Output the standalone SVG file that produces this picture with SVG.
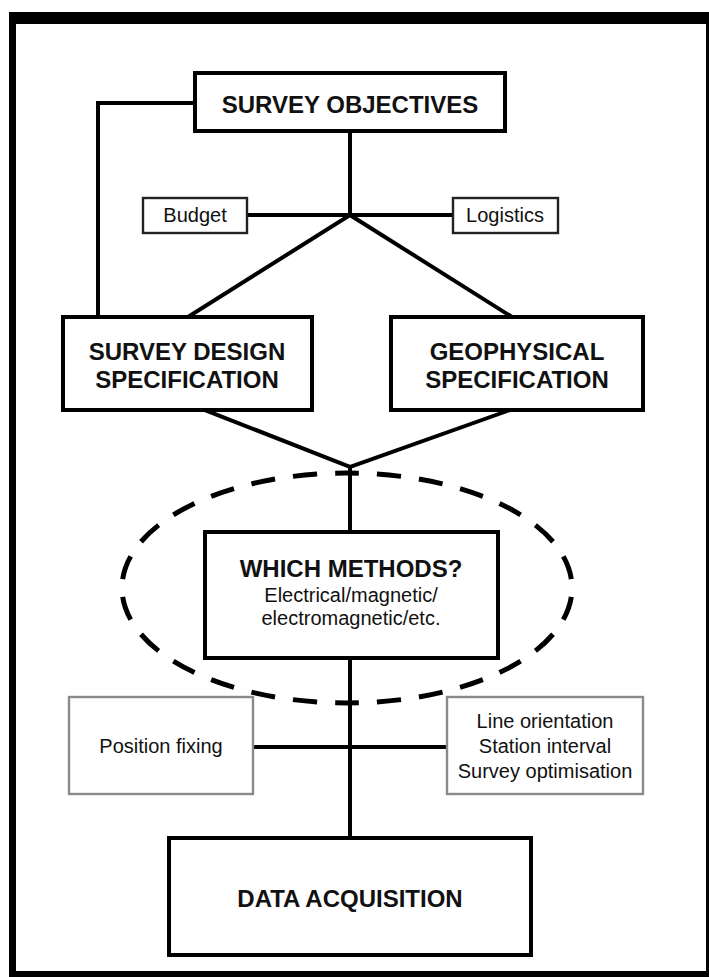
<svg xmlns="http://www.w3.org/2000/svg" width="709" height="977" viewBox="0 0 709 977">
<style>
.main{fill:#fff;stroke:#000;stroke-width:4}
.small{fill:#fff;stroke:#222;stroke-width:2.4}
.grey{fill:#fff;stroke:#8a8a8a;stroke-width:2.4}
.conn{stroke:#000;stroke-width:4;fill:none;stroke-linecap:square}
.bold{font-family:"Liberation Sans",Arial,sans-serif;font-weight:bold;font-size:24px;fill:#111;text-anchor:middle}
.reg{font-family:"Liberation Sans",Arial,sans-serif;font-size:20px;fill:#111;text-anchor:middle}
</style>
<rect width="709" height="977" fill="#fff"/>
<g id="frame" fill="#000">
<rect x="9" y="12" width="700" height="12"/>
<rect x="9" y="12" width="7" height="965"/>
<rect x="9" y="971" width="700" height="6"/>
<rect x="706" y="12" width="3" height="965"/>
</g>
<g id="connectors">
<polyline class="conn" points="195,103 98,103 98,317"/>
<line class="conn" x1="350" y1="131" x2="350" y2="215"/>
<line class="conn" x1="247" y1="215" x2="453" y2="215"/>
<line class="conn" x1="350" y1="215" x2="188" y2="317"/>
<line class="conn" x1="350" y1="215" x2="512" y2="317"/>
<line class="conn" x1="205" y1="410" x2="350" y2="467"/>
<line class="conn" x1="510" y1="410" x2="350" y2="467"/>
<line class="conn" x1="350" y1="467" x2="350" y2="532"/>
<line class="conn" x1="350" y1="658" x2="350" y2="838"/>
<line class="conn" x1="253" y1="747" x2="447" y2="747"/>
<ellipse id="methods-boundary" cx="347" cy="588" rx="225" ry="115" pathLength="1092" fill="none" stroke="#000" stroke-width="5" stroke-dasharray="24 18" stroke-dashoffset="-9"/>
</g>
<g id="survey-objectives">
<rect class="main" x="195" y="73" width="310" height="58"/>
<text class="bold" x="350" y="113">SURVEY OBJECTIVES</text>
</g>
<g id="budget">
<rect class="small" x="143" y="198" width="104" height="35"/>
<text class="reg" x="195" y="222">Budget</text>
</g>
<g id="logistics">
<rect class="small" x="453" y="198" width="105" height="35"/>
<text class="reg" x="505" y="222">Logistics</text>
</g>
<g id="survey-design">
<rect class="main" x="63" y="317" width="249" height="93"/>
<text class="bold" x="187" y="360">SURVEY DESIGN</text>
<text class="bold" x="187" y="388">SPECIFICATION</text>
</g>
<g id="geophysical">
<rect class="main" x="391" y="317" width="252" height="93"/>
<text class="bold" x="517" y="360">GEOPHYSICAL</text>
<text class="bold" x="517" y="388">SPECIFICATION</text>
</g>
<g id="which-methods">
<rect class="main" x="205" y="532" width="293" height="126"/>
<text class="bold" x="351" y="577">WHICH METHODS?</text>
<text class="reg" x="351" y="602">Electrical/magnetic/</text>
<text class="reg" x="351" y="625">electromagnetic/etc.</text>
</g>
<g id="position-fixing">
<rect class="grey" x="69" y="697" width="184" height="97"/>
<text class="reg" x="161" y="753">Position fixing</text>
</g>
<g id="line-orientation">
<rect class="grey" x="447" y="697" width="196" height="97"/>
<text class="reg" x="545" y="728">Line orientation</text>
<text class="reg" x="545" y="753">Station interval</text>
<text class="reg" x="545" y="778">Survey optimisation</text>
</g>
<g id="data-acquisition">
<rect class="main" x="169" y="838" width="362" height="117"/>
<text class="bold" x="350" y="907">DATA ACQUISITION</text>
</g>
</svg>
